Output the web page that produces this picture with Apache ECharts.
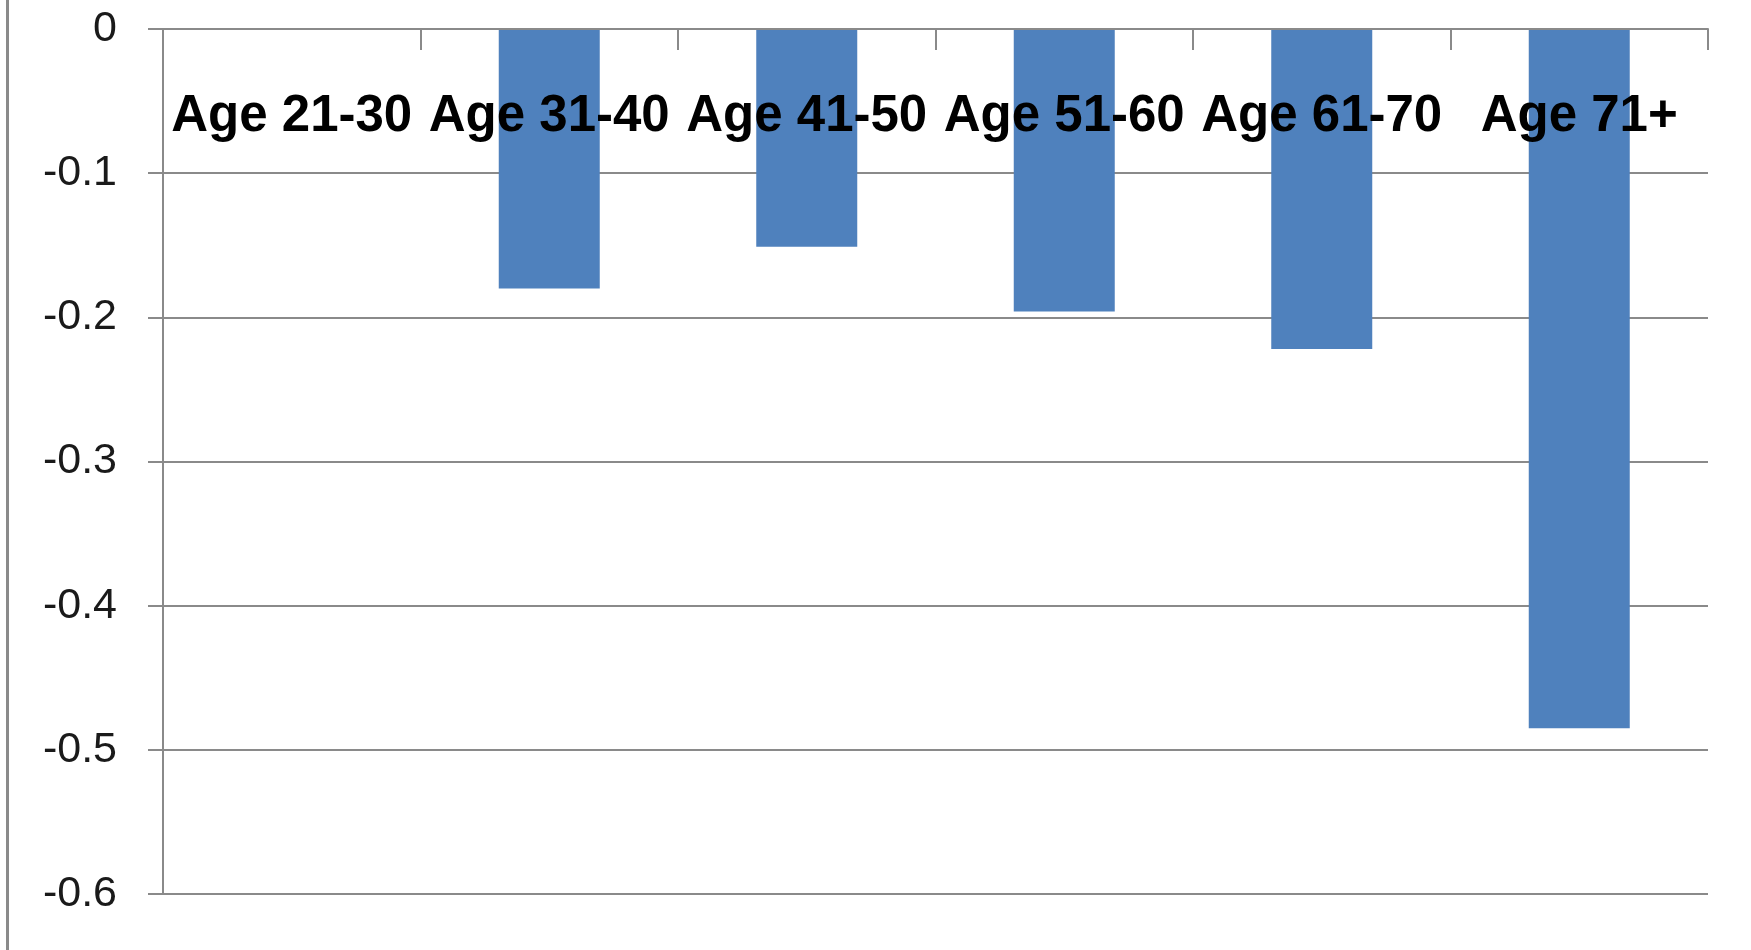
<!DOCTYPE html>
<html>
<head>
<meta charset="utf-8">
<script src="https://cdn.jsdelivr.net/npm/echarts@6/dist/echarts.min.js"></script>
<style>
  html, body { margin: 0; padding: 0; background: #ffffff; }
  #chart { width: 1751px; height: 950px; }
</style>
</head>
<body>
<div id="chart"></div>
<script>
// Age groups along the category axis
const categories = ['Age 21-30', 'Age 31-40', 'Age 41-50', 'Age 51-60', 'Age 61-70', 'Age 71+'];
// Effect size per age group (negative values hang down from zero)
const values = [0, -0.18, -0.151, -0.196, -0.222, -0.485];
// Value axis range and step
const yMin = -0.6;
const yMax = 0;
const yStep = 0.1;

const chart = echarts.init(document.getElementById('chart'), null, { renderer: 'canvas' });

const gray = '#8a8a8a';

chart.setOption({
  backgroundColor: '#ffffff',
  animation: false,
  grid: { left: 163, top: 29, right: 43, bottom: 56, containLabel: false },
  graphic: [
    {
      type: 'rect',
      shape: { x: 6, y: 0, width: 3, height: 950 },
      style: { fill: '#8a8a8a' },
      silent: true
    }
  ],
  xAxis: {
    type: 'category',
    data: categories,
    position: 'top',
    z: 10,
    axisLine: { show: true, lineStyle: { color: gray, width: 2 } },
    axisTick: { show: true, inside: true, length: 21, alignWithLabel: false, lineStyle: { color: gray, width: 2 } },
    axisLabel: {
      inside: true,
      margin: 62,
      color: '#000000',
      fontFamily: 'Liberation Sans, Arial, sans-serif',
      fontWeight: 'bold',
      fontSize: 51,
      interval: 0
    },
    splitLine: { show: false }
  },
  yAxis: {
    type: 'value',
    min: yMin,
    max: yMax,
    interval: yStep,
    axisLine: { show: true, lineStyle: { color: gray, width: 2 } },
    axisTick: { show: true, length: 15, lineStyle: { color: gray, width: 2 } },
    axisLabel: {
      margin: 46,
      color: '#1a1a1a',
      fontFamily: 'Liberation Sans, Arial, sans-serif',
      fontSize: 43,
      formatter: v => (Math.abs(v) < 1e-9 ? '0' : (Math.round(v * 10) / 10).toString())
    },
    splitLine: { show: true, lineStyle: { color: gray, width: 2 } }
  },
  series: [
    {
      type: 'bar',
      data: values,
      barWidth: 101,
      itemStyle: { color: '#4f81bd' },
      z: 2
    }
  ]
});
</script>
</body>
</html>
